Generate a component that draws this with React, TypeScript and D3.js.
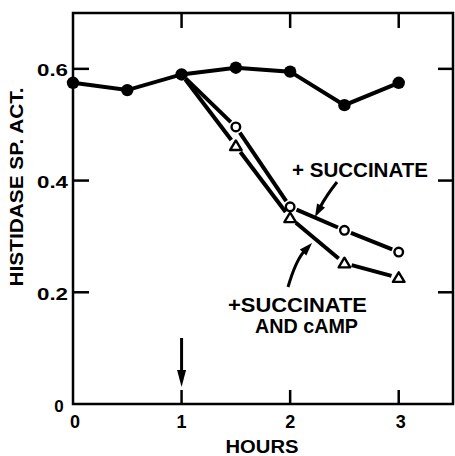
import React from "react";
import * as d3 from "d3";

const controlHours = [0, 0.5, 1, 1.5, 2, 2.5, 3];
const controlValues = [0.575, 0.562, 0.59, 0.602, 0.595, 0.535, 0.575];
const succHours = [1, 1.5, 2, 2.5, 3];
const succValues = [0.59, 0.496, 0.353, 0.311, 0.272];
const campHours = [1, 1.5, 2, 2.5, 3];
const campValues = [0.59, 0.462, 0.333, 0.252, 0.226];
const xTicks = [0, 1, 2, 3];
const yTicks = [0, 0.2, 0.4, 0.6];
const yTickLabels = ["0", "0.2", "0.4", "0.6"];
const xTickLabels = ["0", "1", "2", "3"];

const W = 455, H = 456;
const L = 73, R = 453, T = 13, B = 404;
const FONT = "'Liberation Sans', Arial, sans-serif";

export default function App() {
  const x = d3.scaleLinear().domain([0, 3.5]).range([L, R]);
  const y = d3.scaleLinear().domain([0, 0.7]).range([B, T]);

  const ctrl = controlHours.map((h, i) => [x(h), y(controlValues[i])] as [number, number]);
  const succ = succHours.map((h, i) => [x(h), y(succValues[i])] as [number, number]);
  const camp = campHours.map((h, i) => [x(h), y(campValues[i])] as [number, number]);
  const line = d3.line();

  const gapSegs = (pts: [number, number][], g0: number, g: number) =>
    pts.slice(1).map((p, i) => {
      const a = pts[i];
      const dx = p[0] - a[0], dy = p[1] - a[1];
      const len = Math.hypot(dx, dy);
      const ux = dx / len, uy = dy / len;
      const s = i === 0 ? g0 : g;
      return (
        <line key={i} x1={a[0] + ux * s} y1={a[1] + uy * s} x2={p[0] - ux * g} y2={p[1] - uy * g}
          stroke="#000" strokeWidth={4} strokeLinecap="butt" />
      );
    });

  const arrow = (sx: number, sy: number, cx: number, cy: number, ex: number, ey: number) => {
    const dx = ex - cx, dy = ey - cy;
    const len = Math.hypot(dx, dy);
    const ux = dx / len, uy = dy / len;
    const hl = 13, hw = 4.5;
    const bx = ex - ux * hl, by = ey - uy * hl;
    const p = `${ex},${ey} ${bx - uy * hw},${by + ux * hw} ${bx + uy * hw},${by - ux * hw}`;
    return (
      <g>
        <path d={`M${sx},${sy} Q${cx},${cy} ${bx + ux * 2},${by + uy * 2}`} fill="none" stroke="#000" strokeWidth={3} />
        <polygon points={p} fill="#000" />
      </g>
    );
  };

  const tri = (cx: number, cy: number) => {
    const s = 5.5;
    return `${cx},${cy - s} ${cx - s * 1.05},${cy + s * 0.75} ${cx + s * 1.05},${cy + s * 0.75}`;
  };

  return (
    <svg width={W} height={H} style={{ position: "absolute", left: 0, top: 0, background: "#fff" }}>
      <rect x={0} y={0} width={W} height={H} fill="#fff" />
      {/* frame */}
      <rect x={L} y={T} width={R - L} height={B - T} fill="none" stroke="#000" strokeWidth={2.5} />
      {/* ticks */}
      {yTicks.filter(v => v > 0).map(v => (
        <g key={"yt" + v}>
          <line x1={L} x2={L + 16} y1={y(v)} y2={y(v)} stroke="#000" strokeWidth={2.5} />
          <line x1={R} x2={R - 15} y1={y(v)} y2={y(v)} stroke="#000" strokeWidth={2.5} />
        </g>
      ))}
      {xTicks.filter(v => v > 0).map(v => (
        <g key={"xt" + v}>
          <line x1={x(v)} x2={x(v)} y1={T} y2={T + 15} stroke="#000" strokeWidth={2.5} />
          <line x1={x(v)} x2={x(v)} y1={B} y2={B - 14} stroke="#000" strokeWidth={2.5} />
        </g>
      ))}
      {/* tick labels */}
      {yTicks.map((v, i) => (
        v === 0 ? (
          <text key={"yl" + i} x={59} y={y(v) + 8} textAnchor="middle" fontFamily={FONT} fontWeight={700} fontSize={17}>{yTickLabels[i]}</text>
        ) : (
          <text key={"yl" + i} x={68} y={y(v) + 7.5} textAnchor="end" fontFamily={FONT} fontWeight={700} fontSize={17}
            textLength={31} lengthAdjust="spacingAndGlyphs">{yTickLabels[i]}</text>
        )
      ))}
      {xTicks.map((v, i) => (
        <text key={"xl" + i} x={x(v) + (v === 0 ? 2 : v === 3 ? 2 : 0)} y={428} textAnchor="middle" fontFamily={FONT} fontWeight={700} fontSize={18}>{xTickLabels[i]}</text>
      ))}
      {/* axis titles */}
      <text x={262} y={453} textAnchor="middle" fontFamily={FONT} fontWeight={700} fontSize={18}
        textLength={73} lengthAdjust="spacingAndGlyphs">HOURS</text>
      <text transform={`translate(23,${187}) rotate(-90)`} textAnchor="middle" fontFamily={FONT} fontWeight={700} fontSize={18}
        textLength={199} lengthAdjust="spacingAndGlyphs">HISTIDASE SP. ACT.</text>
      {/* arrow at 1 hour */}
      <line x1={x(1)} x2={x(1)} y1={338} y2={375} stroke="#000" strokeWidth={3} />
      <polygon points={`${x(1)},387 ${x(1) - 4.5},370 ${x(1) + 4.5},370`} fill="#000" />
      {/* data lines */}
      <path d={line(ctrl) || ""} fill="none" stroke="#000" strokeWidth={4} />
      {gapSegs(succ, 6, 7)}
      {gapSegs(camp, 6, 7.5)}
      {/* markers */}
      {ctrl.map((p, i) => <circle key={"c" + i} cx={p[0]} cy={p[1]} r={6.2} fill="#000" />)}
      {succ.slice(1).map((p, i) => <circle key={"s" + i} cx={p[0]} cy={p[1]} r={4.3} fill="#fff" stroke="#000" strokeWidth={2.4} />)}
      {camp.slice(1).map((p, i) => <polygon key={"t" + i} points={tri(p[0], p[1])} fill="#fff" stroke="#000" strokeWidth={2.4} strokeLinejoin="round" />)}
      {/* annotations */}
      <text x={292} y={177} fontFamily={FONT} fontWeight={700} fontSize={20} textLength={136} lengthAdjust="spacingAndGlyphs">+ SUCCINATE</text>
      {arrow(337, 182, 326, 196, 315, 217)}
      <text x={228} y={312} fontFamily={FONT} fontWeight={700} fontSize={20} textLength={139} lengthAdjust="spacingAndGlyphs">+SUCCINATE</text>
      <text x={255} y={333} fontFamily={FONT} fontWeight={700} fontSize={20} textLength={103} lengthAdjust="spacingAndGlyphs">AND cAMP</text>
      {arrow(288, 287, 296, 260, 312, 243)}
    </svg>
  );
}
